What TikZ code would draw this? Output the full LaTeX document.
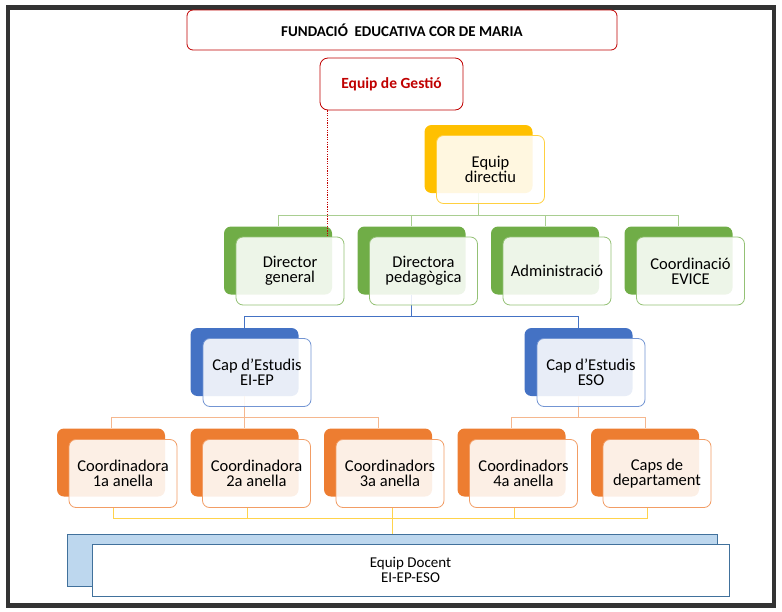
\documentclass[tikz,border=0pt]{standalone}
\usepackage{fontspec}
\setmainfont{Carlito}
\usepackage{tikz}

\definecolor{frame}{HTML}{333333}
\definecolor{redfcm}{HTML}{C00000}
\definecolor{gold}{HTML}{FFC000}
\definecolor{grn}{HTML}{70AD47}
\definecolor{blu}{HTML}{4472C4}
\definecolor{orng}{HTML}{ED7D31}
\definecolor{docfill}{HTML}{BDD7EE}
\definecolor{docline}{HTML}{41719C}

\begin{document}
\begin{tikzpicture}[x=1pt,y=-1pt,node distance=133.5pt,align=center,
    box/.style={rounded corners=7pt,minimum width=108pt,minimum height=68pt,inner sep=1pt,
        font=\fontsize{16.5}{15}\selectfont},
    back/.style={box,fill=#1,draw=none},
    front/.style={box,draw=#1!75!white,line width=0.8pt,fill=white,fill opacity=0.88,text opacity=1},
    link/.style={draw=#1,line width=0.9pt},
    redbox/.style={draw=redfcm,line width=0.8pt,rounded corners=6pt,fill=white}]

    \useasboundingbox (0,0) rectangle (782,611);
    \draw[line width=4.5pt,draw=frame] (8,7.5) rectangle (774,605.5);

    % top of the chart
    \node[redbox,minimum width=430pt,minimum height=40pt,font=\fontsize{15}{16}\selectfont\bfseries]
        (fundacio) at (402,30) {FUNDACIÓ\ \ EDUCATIVA COR DE MARIA};
    \node[redbox,rounded corners=8pt,minimum width=143pt,minimum height=52pt,text=redfcm,
        font=\fontsize{15.5}{17}\selectfont\bfseries] (gestio) at (391.5,84) {Equip de Gestió};

    % back boxes
    \node[back=gold] (edb) at (478.5,159) {};
    \node[back=grn] (dgb) at (278,260.5) {};
    \node[back=grn] (dpb) [right of=dgb] {};
    \node[back=grn] (admb) [right of=dpb] {};
    \node[back=grn] (evib) [right of=admb] {};
    \node[back=blu] (ceib) at (244.5,362) {};
    \node[back=blu] (cesob) at (578.5,362) {};
    \node[back=orng] (c1b) at (111,462.5) {};
    \node[back=orng] (c2b) [right of=c1b] {};
    \node[back=orng] (c3b) [right of=c2b] {};
    \node[back=orng] (c4b) [right of=c3b] {};
    \node[back=orng] (c5b) [right of=c4b] {};
    \node[draw=docline,fill=docfill,line width=0.8pt,minimum width=650pt,minimum height=52pt]
        (docb) at (392,560) {};

    % connectors
    \foreach \n in {dgb,dpb,admb,evib}
        \draw[link=grn!60!white] (edb.south) |- ([yshift=11pt]\n.north) -- (\n.north);
    \foreach \n in {ceib,cesob}
        \draw[link=blu] (dpb.south) |- ([yshift=11pt]\n.north) -- (\n.north);
    \foreach \n in {c1b,c2b,c3b}
        \draw[link=orng!55!white] (ceib.south) |- ([yshift=11pt]\n.north) -- (\n.north);
    \foreach \n in {c4b,c5b}
        \draw[link=orng!55!white] (cesob.south) |- ([yshift=11pt]\n.north) -- (\n.north);

    % front boxes
    \node[front=gold] (edf) at ([shift={(12,10.5)}]edb) {Equip\\directiu};
    \node[front=grn] (dgf) at ([shift={(12,10.5)}]dgb) {Director\\general};
    \node[front=grn] (dpf) at ([shift={(12,10.5)}]dpb) {Directora\\pedagògica};
    \node[front=grn] (admf) at ([shift={(12,10.5)}]admb) {Administració};
    \node[front=grn] (evif) at ([shift={(12,10.5)}]evib) {Coordinació\\EVICE};
    \node[front=blu] (ceif) at ([shift={(12.5,10.5)}]ceib) {Cap d’Estudis\\EI-EP};
    \node[front=blu] (cesof) at ([shift={(12.5,10.5)}]cesob) {Cap d’Estudis\\ESO};
    \node[front=orng] (c1f) at ([shift={(12,11)}]c1b) {Coordinadora\\1a anella};
    \node[front=orng] (c2f) at ([shift={(12,11)}]c2b) {Coordinadora\\2a anella};
    \node[front=orng] (c3f) at ([shift={(12,11)}]c3b) {Coordinadors\\3a anella};
    \node[front=orng] (c4f) at ([shift={(12,11)}]c4b) {Coordinadors\\4a anella};
    \node[front=orng] (c5f) at ([shift={(12,11)}]c5b) {Caps de\\departament};
    \node[draw=docline,fill=white,line width=0.8pt,minimum width=637pt,minimum height=52pt,
        font=\fontsize{15}{15}\selectfont] (docf) at ([shift={(18.5,10)}]docb) {Equip Docent\\EI-EP-ESO};

    \draw[link=gold!70!white] ([xshift=-9.5pt]c1f.south) -- ++(0,11) -| ([xshift=-9.5pt]c5f.south);
    \foreach \n in {c2f,c4f}
        \draw[link=gold!70!white] ([xshift=-9.5pt]\n.south) -- ++(0,11);
    \draw[link=gold!70!white] (docb.north) -- (docb.north |- c3f.south);

    \draw[draw=redfcm,line width=1pt,dash pattern=on 1.2pt off 1.2pt] ([xshift=8pt]gestio.south west)
        -- ([xshift=8pt]gestio.south west |- dgf.north);
\end{tikzpicture}
\end{document}
